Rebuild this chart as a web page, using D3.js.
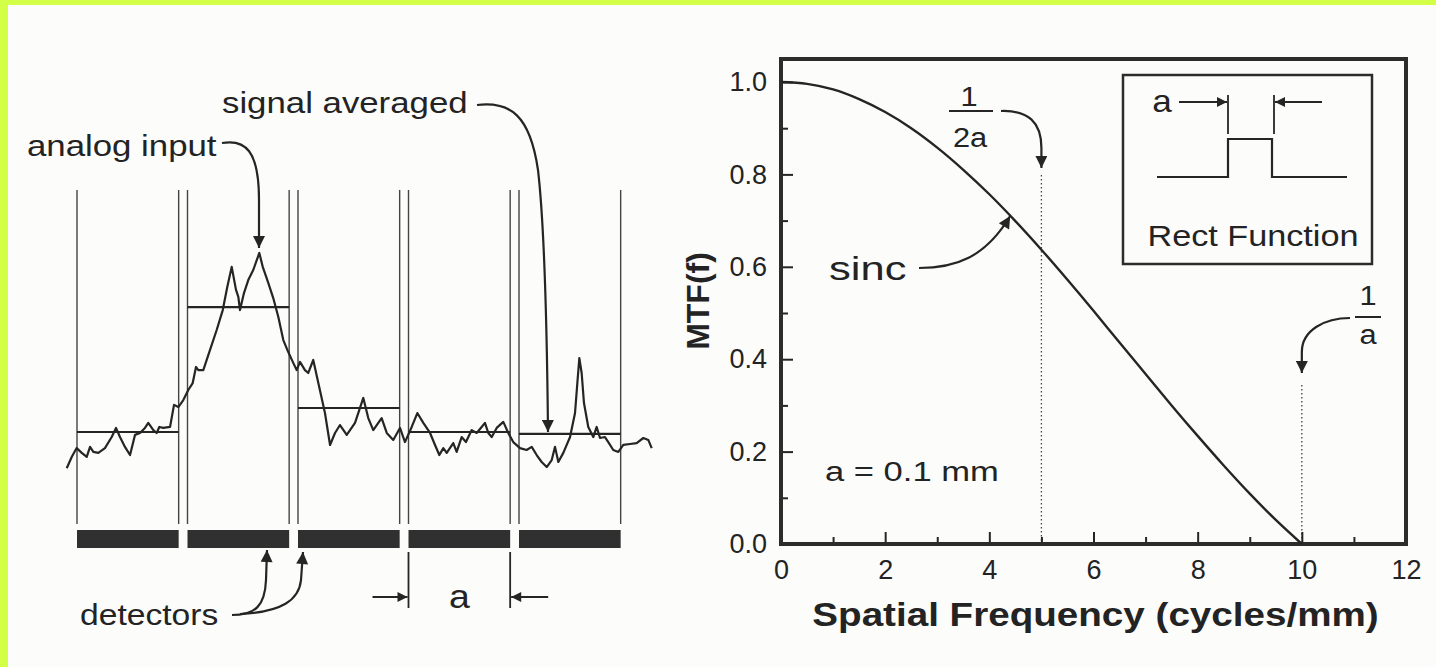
<!DOCTYPE html>
<html>
<head>
<meta charset="utf-8">
<script src="https://cdn.jsdelivr.net/npm/d3@7"></script>
<style>
  html, body { margin: 0; padding: 0; background: #fcfcfa; }
  svg { display: block; }
  text { font-family: "Liberation Sans", Arial, Helvetica, sans-serif; fill: #232323; }
</style>
</head>
<body>
<svg id="chart" width="1436" height="667"></svg>
<script>
// ---------------- DATA ----------------
// Left panel: analog input signal, [position (µm), signal (a.u.)]
const analogInput = [
  [-9.3,0.49],[-4.8,0.96],[-0.3,1.33],[4.3,1.13],[8.8,0.96],[11.8,1.38],[14.8,1.17],[19.3,1.13],
  [25.3,1.33],[31.4,1.79],[35.3,2.17],[38.9,1.79],[43.4,1.38],[48.0,1.04],[52.5,1.88],[57.0,1.96],
  [61.5,2.17],[64.5,2.38],[69.1,2.08],[72.1,1.96],[74.5,2.21],[78.1,2.17],[84.2,2.21],[87.8,3.13],
  [91.7,3.04],[96.2,3.33],[100.7,3.75],[104.7,4.04],[107.7,4.71],[109.8,4.58],[114.3,4.58],[120.4,5.42],
  [126.4,6.25],[131.9,7.08],[136.0,8.04],[140.0,8.88],[143.9,7.92],[146.0,7.63],[147.5,7.08],[151.1,7.79],
  [155.0,8.33],[159.5,8.75],[165.0,9.46],[168.1,8.88],[173.1,8.21],[177.6,7.58],[182.2,6.79],[186.7,5.83],
  [191.2,5.33],[195.7,4.88],[198.8,4.58],[201.8,4.92],[206.3,4.58],[209.3,4.46],[213.8,5.0],[218.4,4.04],
  [224.4,2.79],[229.0,1.46],[233.5,1.96],[238.0,2.29],[244.1,1.88],[251.6,2.38],[259.1,3.42],[263.6,2.58],
  [268.1,2.08],[275.7,2.58],[280.3,1.96],[286.2,1.67],[292.3,2.17],[296.8,1.58],[302.9,2.21],[308.0,2.79],
  [313.4,2.38],[319.5,1.96],[324.0,1.46],[327.9,1.04],[331.5,1.33],[334.6,1.13],[340.5,1.54],[343.6,1.17],
  [348.1,1.79],[352.0,1.58],[357.2,2.08],[361.7,1.96],[366.2,2.21],[369.2,2.38],[372.2,1.96],[375.3,1.79],
  [379.8,2.17],[385.8,2.42],[390.3,1.96],[394.8,1.58],[400.9,1.33],[406.9,1.25],[411.5,1.38],[416.0,1.04],
  [420.5,0.75],[425.1,0.54],[429.6,0.83],[432.6,1.38],[435.6,0.75],[440.1,1.13],[446.2,1.79],[450.7,2.79],
  [452.8,4.04],[454.6,5.08],[456.7,4.46],[458.8,3.21],[462.7,2.21],[467.2,1.79],[470.3,2.21],[473.3,1.75],
  [477.8,1.79],[480.8,1.58],[485.3,1.25],[489.9,1.17],[494.4,1.46],[500.5,1.5],[506.5,1.54],[512.5,1.75],
  [517.0,1.67],[520.1,1.33]
];
// Detectors: start position (µm), width (µm)
const detectorStarts = [0, 100, 200, 300, 400];
const detectorWidth = 92;
// Signal averaged over each detector (a.u.)
const detectorAverages = [2.0, 7.2, 3.0, 2.0, 1.92];

// Right panel: MTF of rect aperture (a = 0.1 mm)
const mtfFreq = [0, 0.5, 1, 1.5, 2, 2.5, 3, 3.5, 4, 4.5, 5, 5.5, 6, 6.5, 7, 7.5, 8, 8.5, 9, 9.5, 10];
const mtfValues = [1.0, 0.996, 0.984, 0.963, 0.935, 0.900, 0.858, 0.810, 0.757, 0.699, 0.637,
                   0.572, 0.505, 0.436, 0.368, 0.300, 0.234, 0.170, 0.109, 0.052, 0.0];
const xMajorTicks = [0, 2, 4, 6, 8, 10, 12];
const xMinorTicks = [1, 3, 5, 7, 9, 11];
const yMajorTicks = [0, 0.2, 0.4, 0.6, 0.8, 1.0];
const yMinorTicks = [0.1, 0.3, 0.5, 0.7, 0.9];
const markerFreqs = [5, 10];   // 1/2a and 1/a

// ---------------- DRAW ----------------
const svg = d3.select("#chart");
const INK = "#252525";

svg.append("rect").attr("width", 1436).attr("height", 667).attr("fill", "#fcfcfa");
svg.append("rect").attr("x", 0).attr("y", 0).attr("width", 1436).attr("height", 5).attr("fill", "#d4ff47");
svg.append("rect").attr("x", 0).attr("y", 0).attr("width", 8).attr("height", 667).attr("fill", "#d4ff47");

const defs = svg.append("defs");
defs.append("marker").attr("id", "ah").attr("viewBox", "0 0 10 10")
  .attr("refX", 10).attr("refY", 5).attr("markerUnits", "userSpaceOnUse")
  .attr("markerWidth", 20).attr("markerHeight", 12).attr("orient", "auto")
  .append("path").attr("d", "M0,0 L10,5 L0,10 Z").attr("fill", INK);
defs.append("marker").attr("id", "ahs").attr("viewBox", "0 0 10 10")
  .attr("refX", 10).attr("refY", 5).attr("markerUnits", "userSpaceOnUse")
  .attr("markerWidth", 18).attr("markerHeight", 10).attr("orient", "auto")
  .append("path").attr("d", "M0,0 L10,5 L0,10 Z").attr("fill", INK);

function label(x, y, str, size, opts = {}) {
  const sx = opts.sx || 1.1;
  const g = svg.append("g").attr("transform", `translate(${x},${y}) scale(${sx},1)`);
  const t = g.append("text").text(str)
    .attr("font-size", size)
    .attr("text-anchor", opts.anchor || "start")
    .attr("dominant-baseline", "central");
  if (opts.bold) t.attr("font-weight", "bold");
  return t;
}
function arrow(d, small) {
  svg.append("path").attr("d", d).attr("fill", "none").attr("stroke", INK)
    .attr("stroke-width", 2.2).attr("marker-end", small ? "url(#ahs)" : "url(#ah)");
}

// ===== Left panel =====
const lx = d3.scaleLinear().domain([0, 500]).range([77, 629.5]);
const ly = d3.scaleLinear().domain([0, 10]).range([480, 240]);

const left = svg.append("g");
// detector boundary lines
detectorStarts.forEach(s => {
  [s, s + detectorWidth].forEach(p => {
    left.append("line").attr("x1", lx(p)).attr("x2", lx(p))
      .attr("y1", 190).attr("y2", 524)
      .attr("stroke", "#444").attr("stroke-width", 1.4);
  });
});
// detectors (bars)
left.selectAll("rect.det").data(detectorStarts).join("rect")
  .attr("class", "det")
  .attr("x", d => lx(d)).attr("width", lx(detectorWidth) - lx(0))
  .attr("y", 530).attr("height", 18)
  .attr("fill", "#303030");
// averaged levels
left.selectAll("line.avg").data(detectorStarts).join("line")
  .attr("class", "avg")
  .attr("x1", d => lx(d)).attr("x2", d => lx(d + detectorWidth))
  .attr("y1", (d, i) => ly(detectorAverages[i])).attr("y2", (d, i) => ly(detectorAverages[i]))
  .attr("stroke", INK).attr("stroke-width", 2.2);
// analog input
left.append("path").datum(analogInput)
  .attr("d", d3.line().x(d => lx(d[0])).y(d => ly(d[1])))
  .attr("fill", "none").attr("stroke", INK).attr("stroke-width", 2.2)
  .attr("stroke-linejoin", "round");

// "a" dimension under detector 4
const d4 = detectorStarts[3];
[d4, d4 + detectorWidth].forEach(p => {
  left.append("line").attr("x1", lx(p)).attr("x2", lx(p)).attr("y1", 552).attr("y2", 608)
    .attr("stroke", INK).attr("stroke-width", 1.8);
});
arrow(`M${lx(d4) - 36},597 L${lx(d4) - 1},597`, true);
arrow(`M${lx(d4 + detectorWidth) + 38},597 L${lx(d4 + detectorWidth) + 1},597`, true);
label((lx(d4) + lx(d4 + detectorWidth)) / 2, 597, "a", 34, { anchor: "middle" });

// annotations
label(27, 146, "analog input", 29, { sx: 1.2 });
arrow(`M222,143 C 245,139 259,150 259,200 L259,248`);
label(222, 103, "signal averaged", 29, { sx: 1.2 });
arrow(`M477,105 C 510,101 530,115 538,170 C 545,230 547,330 548,432`);
label(80, 615, "detectors", 29, { sx: 1.16 });
arrow(`M232,615 C 256,615 265,605 266,580 L267,550`);
arrow(`M240,614 C 282,612 299,600 301,580 L303,552`);

// ===== Right panel =====
const x = d3.scaleLinear().domain([0, 12]).range([781, 1406]);
const y = d3.scaleLinear().domain([0, 1]).range([544, 82]);
const right = svg.append("g");

// dotted markers at 1/2a and 1/a
const dotTop = [175, 385];
markerFreqs.forEach((f, i) => {
  right.append("line").attr("x1", x(f)).attr("x2", x(f))
    .attr("y1", dotTop[i]).attr("y2", y(0))
    .attr("stroke", "#444").attr("stroke-width", 1.3).attr("stroke-dasharray", "1.5,2.5");
});

// axes
function styleAxis(g) {
  g.select(".domain").remove();
  g.selectAll(".tick line").attr("stroke", INK).attr("stroke-width", 2);
  g.selectAll(".tick text").attr("font-family", '"Liberation Sans", Arial, sans-serif')
    .attr("font-size", 27).attr("fill", "#2a2a2a");
}
right.append("g").attr("transform", `translate(0,${y(0)})`)
  .call(d3.axisBottom(x).tickValues(xMajorTicks).tickSize(-12).tickPadding(16).tickFormat(d3.format("d")))
  .call(styleAxis);
right.append("g").attr("transform", `translate(0,${y(0)})`)
  .call(d3.axisBottom(x).tickValues(xMinorTicks).tickSize(-7).tickFormat(""))
  .call(styleAxis);
right.append("g").attr("transform", `translate(${x(0)},0)`)
  .call(d3.axisLeft(y).tickValues(yMajorTicks).tickSize(-12).tickPadding(14).tickFormat(d3.format(".1f")))
  .call(styleAxis);
right.append("g").attr("transform", `translate(${x(0)},0)`)
  .call(d3.axisLeft(y).tickValues(yMinorTicks).tickSize(-7).tickFormat(""))
  .call(styleAxis);

// frame
right.append("rect").attr("x", x(0)).attr("y", 59)
  .attr("width", x(12) - x(0)).attr("height", y(0) - 59)
  .attr("fill", "none").attr("stroke", "#2c2c2c").attr("stroke-width", 4);

// sinc curve
right.append("path").datum(mtfFreq.map((f, i) => [f, mtfValues[i]]))
  .attr("d", d3.line().x(d => x(d[0])).y(d => y(d[1])).curve(d3.curveMonotoneX))
  .attr("fill", "none").attr("stroke", INK).attr("stroke-width", 2.4);

// axis titles
label((x(0) + x(12)) / 2 + 2, 615, "Spatial Frequency (cycles/mm)", 33, { anchor: "middle", bold: true, sx: 1.17 });
svg.append("text").text("MTF(f)")
  .attr("transform", "translate(698,301) rotate(-90)")
  .attr("text-anchor", "middle").attr("dominant-baseline", "central")
  .attr("font-size", 32).attr("font-weight", "bold");

// 1/2a annotation
label(969, 96, "1", 28, { anchor: "middle" });
right.append("line").attr("x1", 949).attr("x2", 993).attr("y1", 111).attr("y2", 111).attr("stroke", INK).attr("stroke-width", 2);
label(970, 137, "2a", 28, { anchor: "middle" });
arrow(`M1001,111 C 1028,110 ${x(5)},122 ${x(5)},148 L${x(5)},168`);

// sinc label
label(829, 268, "sinc", 34, { sx: 1.28 });
arrow(`M919,268 C 955,268 985,258 ${x(4.4)},216`);

// 1/a annotation
label(1368, 295, "1", 28, { anchor: "middle" });
right.append("line").attr("x1", 1355).attr("x2", 1381).attr("y1", 317).attr("y2", 317).attr("stroke", INK).attr("stroke-width", 2);
label(1368, 334, "a", 28, { anchor: "middle" });
arrow(`M1350,318 C 1325,318 ${x(10)},330 ${x(10)},352 L${x(10)},373`);

// a = 0.1 mm
label(825, 472, "a = 0.1 mm", 27, { sx: 1.28 });

// inset
right.append("rect").attr("x", 1123).attr("y", 75).attr("width", 249).attr("height", 189)
  .attr("fill", "none").attr("stroke", "#2c2c2c").attr("stroke-width", 2.5);
right.append("path").attr("d", "M1157,177 H1228 V139 H1272 V177 H1347")
  .attr("fill", "none").attr("stroke", INK).attr("stroke-width", 2.2);
[1228, 1274].forEach(px => {
  right.append("line").attr("x1", px).attr("x2", px).attr("y1", 95).attr("y2", 134)
    .attr("stroke", INK).attr("stroke-width", 1.8);
});
label(1162, 101, "a", 32, { anchor: "middle" });
arrow("M1179,102 L1227,102", true);
arrow("M1322,102 L1275,102", true);
label(1253, 236, "Rect Function", 29, { anchor: "middle", sx: 1.18 });
</script>
</body>
</html>
